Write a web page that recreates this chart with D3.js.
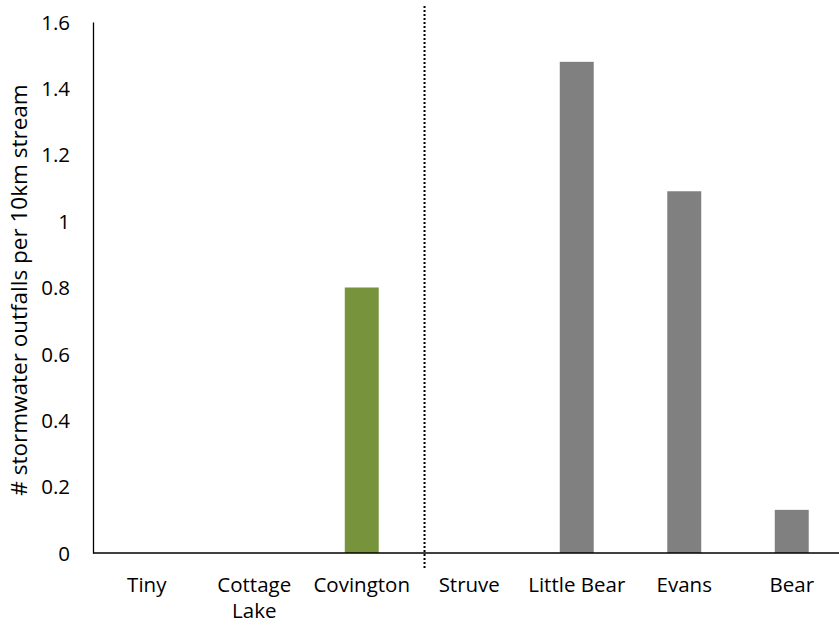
<!DOCTYPE html>
<html>
<head>
<meta charset="utf-8">
<script src="https://cdn.jsdelivr.net/npm/d3@7"></script>
<style>
  html, body { margin: 0; padding: 0; background: #fff; }
  svg { display: block; }
  text { font-family: "Open Sans", "Noto Sans", sans-serif; fill: #000; }
</style>
</head>
<body>
<svg id="chart" width="839" height="625"></svg>
<script>
// Streams (x categories), each label split into display lines
const categories = ["Tiny", "Cottage Lake", "Covington", "Struve", "Little Bear", "Evans", "Bear"];
const categoryLines = [["Tiny"], ["Cottage", "Lake"], ["Covington"], ["Struve"], ["Little Bear"], ["Evans"], ["Bear"]];
// Outfall density per 10 km of stream
const outfalls = [0, 0, 0.8, 0, 1.48, 1.09, 0.13];
// Bar colour group: first group green, second grey
const groups = ["a", "a", "a", "b", "b", "b", "b"];
const yTicks = [0, 0.2, 0.4, 0.6, 0.8, 1, 1.2, 1.4, 1.6];
const yTitle = "# stormwater outfalls per 10km stream";

const colors = { a: "#77933C", b: "#808080" };

const svg = d3.select("#chart");
const plotLeft = 93, plotTop = 22, plotBottom = 553;
const step = 107.5;
const labelSize = "20.5px";

const x = d3.scaleBand()
  .domain(categories)
  .range([plotLeft, plotLeft + step * categories.length])
  .paddingInner(0.684)
  .paddingOuter(0.342);

const y = d3.scaleLinear().domain([0, 1.6]).range([plotBottom, plotTop]);

// Bars
svg.append("g").selectAll("rect")
  .data(categories)
  .join("rect")
  .attr("x", d => x(d))
  .attr("width", x.bandwidth())
  .attr("y", (d, i) => y(outfalls[i]))
  .attr("height", (d, i) => y(0) - y(outfalls[i]))
  .attr("fill", (d, i) => colors[groups[i]]);

// Y axis: line with labels, no tick marks
const yAxis = svg.append("g")
  .attr("transform", `translate(${plotLeft},0)`)
  .call(d3.axisLeft(y).tickValues(yTicks).tickSize(0).tickPadding(23)
    .tickFormat(d => String(+d.toFixed(1))));
yAxis.select(".domain").attr("stroke", "#000").attr("stroke-width", 1.3);
yAxis.selectAll("text")
  .style("font-size", labelSize)
  .attr("dy", "0.35em");

// X axis line across the full width
svg.append("line")
  .attr("x1", plotLeft).attr("x2", 839)
  .attr("y1", y(0)).attr("y2", y(0))
  .attr("stroke", "#000").attr("stroke-width", 1.3);

// Category labels (multi-line)
const xl = svg.append("g").selectAll("text")
  .data(categories)
  .join("text")
  .attr("text-anchor", "middle")
  .attr("x", d => x(d) + x.bandwidth() / 2)
  .attr("y", 592)
  .style("font-size", labelSize);
xl.each(function(d, i) {
  const t = d3.select(this);
  categoryLines[i].forEach((ln, k) => {
    t.append("tspan")
      .attr("x", x(d) + x.bandwidth() / 2)
      .attr("dy", k === 0 ? 0 : 26)
      .text(ln);
  });
});

// Dotted divider between the two stream groups
const divX = x("Struve") - x.step() * 0.258;
svg.append("line")
  .attr("x1", divX).attr("x2", divX)
  .attr("y1", 6).attr("y2", 570)
  .attr("stroke", "#000")
  .attr("stroke-width", 2)
  .attr("stroke-dasharray", "2,2");

// Y axis title
svg.append("text")
  .attr("transform", "translate(27,290) rotate(-90)")
  .attr("text-anchor", "middle")
  .style("font-size", "22.5px")
  .text(yTitle);
</script>
</body>
</html>
